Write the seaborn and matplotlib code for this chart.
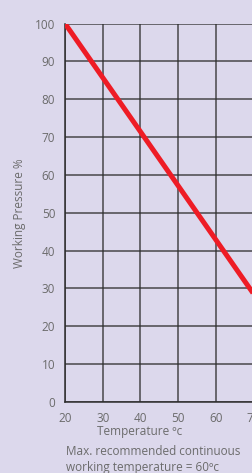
import seaborn as sns
import matplotlib.pyplot as plt
import pandas as pd
import numpy as np

# pressure derating line
temperatura = [20, 90]
pressao = [100, 0]

x_ticks = [20, 30, 40, 50, 60, 70, 80, 90]
y_ticks = [0, 10, 20, 30, 40, 50, 60, 70, 80, 90, 100]

fundo = "#dcd8ec"
cinza = "#6b6b6b"

sns.set_style("white")
plt.rcParams['font.family'] = ['Open Sans', 'DejaVu Sans']

df = pd.DataFrame({"temp": temperatura, "press": pressao})

fig = plt.figure(figsize=(2.52, 4.73), dpi=100, facecolor=fundo)
ax = fig.add_axes([65 / 252, 1 - 402 / 473, 264 / 252, 378.5 / 473])
ax.set_facecolor(fundo)

sns.lineplot(data=df, x="temp", y="press", ax=ax, color="#ee1c25",
             linewidth=3.6, zorder=5, solid_capstyle="butt")

ax.set_xlim(20, 90)
ax.set_ylim(0, 100)
ax.set_xticks(x_ticks)
ax.set_yticks(y_ticks)
ax.grid(True, color="#2e2e2e", linewidth=1.1, alpha=0.85)
ax.set_axisbelow(True)
for s in ax.spines.values():
    s.set_visible(False)
for lado in ["left", "bottom"]:
    ax.spines[lado].set_visible(True)
    ax.spines[lado].set_color("#2e2e2e")
    ax.spines[lado].set_linewidth(1.1)

ax.tick_params(axis="both", direction="out", length=4, width=1, color="#2e2e2e",
               labelsize=8.5, labelcolor=cinza, pad=3)
ax.set_xlabel("Temperature ºc", fontsize=8.5, color=cinza, va="center")
ax.set_ylabel("Working Pressure %", fontsize=8.5, color=cinza, va="center")
ax.xaxis.set_label_coords(75 / 264, -30 / 378.5)
ax.yaxis.set_label_coords(-45 / 264, 0.5)

fig.text(66 / 252, 1 - 459.5 / 473, "Max. recommended continuous\nworking temperature = 60ºc",
         fontsize=8.5, color=cinza, va="center", ha="left", linespacing=1.25)

fig.savefig("out.png", dpi=100, facecolor=fundo)
